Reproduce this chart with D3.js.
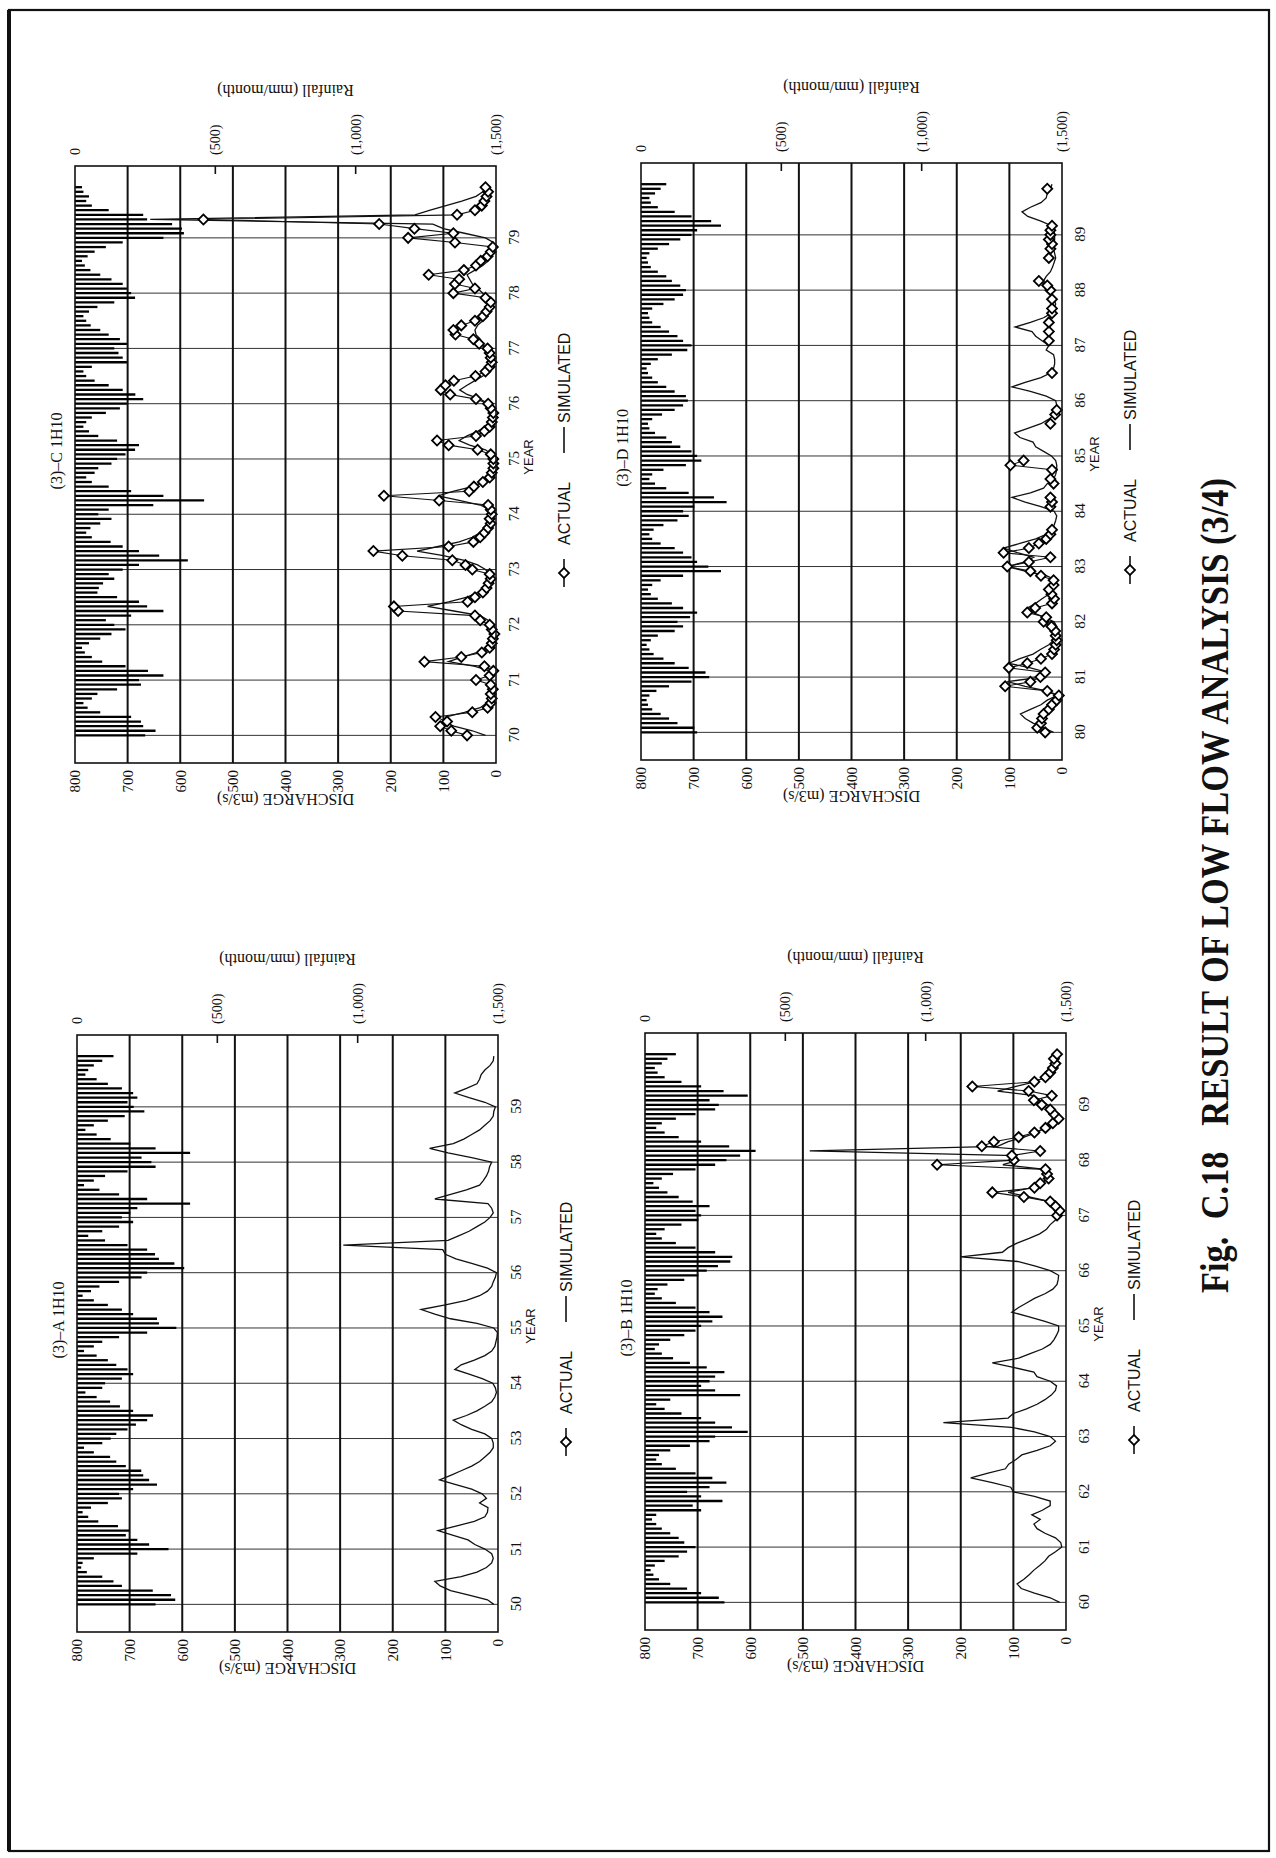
<!DOCTYPE html>
<html>
<head>
<meta charset="utf-8">
<script src="https://cdn.jsdelivr.net/npm/d3@7"></script>
<style>
  html, body { margin: 0; padding: 0; background: #fff; }
  svg { display: block; }
</style>
</head>
<body>
<svg id="page" width="1276" height="1858"></svg>
<script>
// ---------- data ----------
// Discharge axis (m3/s) and rainfall axis (mm/month, hanging from the top)
const dischargeTicks = [0, 100, 200, 300, 400, 500, 600, 700, 800];
const rainTicks = [0, 500, 1000, 1500];
const rainTickLabels = ['0', '(500)', '(1,000)', '(1,500)'];

const titles = ['(3)\u2013A 1H10', '(3)\u2013B 1H10', '(3)\u2013C 1H10', '(3)\u2013D 1H10'];
const yearsA = ['50', '51', '52', '53', '54', '55', '56', '57', '58', '59'];
const yearsB = ['60', '61', '62', '63', '64', '65', '66', '67', '68', '69'];
const yearsC = ['70', '71', '72', '73', '74', '75', '76', '77', '78', '79'];
const yearsD = ['80', '81', '82', '83', '84', '85', '86', '87', '88', '89'];

// Monthly rainfall (mm), Jan of first year .. Dec of tenth year
const rainA = [
  280, 350, 335, 270, 160, 130, 90, 35, 15, 20, 60, 215,
  326, 257, 215, 174, 187, 146, 76, 40, 20, 50, 110, 160,
  150, 200, 285, 257, 236, 229, 174, 140, 118, 60, 25, 90,
  120, 140, 180, 210, 250, 271, 200, 153, 118, 70, 30, 90,
  100, 160, 200, 180, 140, 110, 70, 25, 60, 90, 150, 250,
  354, 292, 285, 200, 160, 110, 60, 20, 50, 80, 150, 230,
  250, 382, 347, 292, 278, 250, 180, 100, 40, 90, 150, 200,
  160, 190, 215, 403, 250, 150, 80, 25, 60, 100, 180, 280,
  265, 230, 403, 280, 190, 120, 70, 30, 60, 110, 170, 240,
  202, 180, 215, 200, 160, 110, 70, 30, 40, 60, 90, 130
];
const rainB = [
  283, 263, 200, 150, 90, 50, 30, 20, 35, 70, 120, 150,
  180, 140, 120, 90, 60, 40, 25, 40, 200, 170, 276, 200,
  150, 230, 290, 240, 180, 110, 60, 40, 50, 90, 160, 230,
  250, 366, 310, 250, 200, 130, 70, 40, 90, 339, 250, 200,
  230, 250, 283, 220, 160, 100, 60, 35, 50, 90, 140, 180,
  200, 240, 276, 230, 180, 110, 60, 35, 45, 80, 140, 190,
  220, 260, 304, 311, 250, 180, 110, 60, 40, 70, 130, 190,
  200, 180, 230, 170, 120, 80, 50, 30, 60, 100, 180, 250,
  290, 339, 394, 300, 200, 120, 70, 40, 60, 110, 180, 250,
  263, 230, 366, 280, 200, 130, 70, 45, 35, 60, 80, 110
];
const rainC = [
  250, 287, 243, 235, 200, 90, 45, 30, 60, 80, 150, 235,
  228, 315, 260, 180, 97, 60, 35, 25, 50, 90, 130, 180,
  140, 110, 200, 315, 257, 228, 150, 80, 85, 100, 140, 120,
  170, 228, 402, 300, 228, 170, 127, 60, 40, 55, 90, 130,
  83, 120, 279, 460, 315, 200, 120, 60, 40, 70, 83, 130,
  150, 180, 214, 228, 150, 83, 50, 30, 40, 60, 110, 160,
  185, 243, 215, 170, 120, 70, 40, 30, 60, 185, 170, 155,
  140, 185, 160, 120, 90, 56, 40, 30, 50, 80, 140, 214,
  200, 185, 170, 130, 90, 55, 35, 25, 45, 70, 110, 170,
  315, 388, 381, 346, 257, 243, 120, 60, 40, 50, 30, 25
];
const rainD = [
  200, 190, 130, 100, 70, 40, 25, 20, 30, 55, 100, 180,
  243, 230, 170, 120, 80, 45, 30, 20, 35, 60, 120, 150,
  130, 175, 200, 150, 110, 60, 35, 25, 40, 70, 150, 285,
  240, 200, 180, 150, 120, 70, 40, 30, 45, 80, 130, 170,
  150, 190, 305, 260, 170, 90, 50, 30, 40, 80, 160, 215,
  200, 180, 140, 110, 90, 50, 30, 25, 40, 75, 120, 150,
  167, 160, 120, 90, 60, 40, 25, 20, 35, 60, 110, 165,
  180, 150, 130, 100, 70, 40, 30, 25, 40, 80, 120, 150,
  160, 140, 110, 90, 60, 35, 25, 20, 30, 60, 100, 140,
  180, 200, 285, 250, 180, 120, 60, 35, 30, 50, 70, 90
];

// Simulated monthly discharge (m3/s)
const simA = [
  8, 20, 55, 90, 110, 120, 70, 40, 22, 12, 9, 12,
  25, 44, 57, 85, 114, 80, 45, 25, 20, 19, 35, 22,
  30, 50, 80, 111, 90, 70, 50, 35, 25, 15, 9, 9,
  12, 25, 50, 70, 85, 60, 40, 25, 12, 6, 3, 5,
  10, 30, 55, 82, 70, 45, 25, 12, 6, 4, 2, 1,
  8, 40, 90, 120, 146, 100, 60, 35, 20, 12, 9, 5,
  3, 20, 50, 80, 100, 105, 294, 95, 75, 55, 40, 25,
  15, 9, 12, 19, 120, 90, 60, 35, 28, 22, 18, 16,
  12, 50, 95, 130, 85, 65, 50, 35, 25, 15, 9, 8,
  5, 25, 55, 82, 60, 40, 35, 32, 25, 15, 9, 8
];
const simB = [
  12, 30, 60, 85, 93, 80, 70, 61, 50, 40, 33, 20,
  8, 10, 20, 40, 55, 61, 49, 65, 45, 30, 30, 60,
  100, 105, 140, 181, 150, 115, 109, 95, 84, 55, 30, 20,
  30, 60, 104, 233, 110, 100, 75, 55, 40, 28, 20, 18,
  30, 55, 61, 100, 140, 90, 68, 45, 30, 23, 18, 14,
  14, 40, 70, 103, 90, 75, 60, 40, 25, 17, 15, 14,
  30, 58, 92, 200, 121, 110, 93, 70, 50, 37, 30, 20,
  15, 13, 18, 30, 70, 110, 65, 45, 35, 32, 40, 120,
  90, 95, 487, 130, 110, 80, 55, 40, 30, 20, 20, 25,
  35, 50, 60, 130, 95, 60, 40, 30, 25, 22, 20, 18
];
const simC = [
  20, 45, 80, 100, 95, 60, 30, 18, 10, 8, 6, 8,
  10, 8, 12, 40, 90, 65, 35, 18, 10, 6, 4, 5,
  8, 15, 30, 80, 130, 90, 55, 35, 22, 15, 10, 12,
  20, 35, 60, 100, 150, 110, 70, 45, 30, 20, 15, 12,
  10, 12, 30, 70, 110, 80, 45, 25, 15, 10, 6, 5,
  5, 8, 20, 50, 70, 55, 35, 20, 12, 8, 6, 10,
  15, 30, 55, 69, 55, 40, 25, 15, 10, 8, 12, 18,
  20, 25, 30, 38, 40, 35, 25, 18, 14, 10, 15, 20,
  25, 35, 45, 50, 55, 40, 25, 15, 10, 6, 4, 5,
  20, 60, 100, 120, 657, 154, 125, 95, 65, 38, 25, 18
];
const simD = [
  16, 35, 55, 70, 79, 60, 40, 28, 10, 30, 70, 104,
  40, 28, 60, 101, 80, 55, 41, 25, 16, 12, 10, 10,
  15, 35, 55, 66, 50, 38, 25, 16, 12, 10, 30, 70,
  104, 70, 54, 85, 111, 80, 50, 30, 22, 15, 12, 10,
  15, 40, 70, 95, 60, 35, 28, 16, 12, 10, 10, 12,
  20, 35, 50, 55, 80, 90, 65, 40, 25, 15, 10, 10,
  12, 30, 60, 95, 70, 40, 22, 16, 14, 14, 16, 30,
  25, 38, 50, 57, 89, 60, 35, 20, 15, 12, 15, 22,
  28, 32, 35, 30, 22, 18, 15, 12, 14, 16, 15, 14,
  14, 15, 20, 40, 65, 76, 60, 40, 30, 28, 22, 19
];

// Observed monthly discharge (m3/s); null = no record
const actB = Array(84).fill(null).concat([
  17, 12, 20, 30, 80, 140, 60, 49, 33, 36, 39, 245,
  99, 103, 49, 160, 137, 90, 60, 39, 25, 14, 23, 30,
  46, 61, 27, 71, 178, 60, 39, 30, 25, 20, 23, 17
]);
const actC = [
  55, 85, 106, 93, 115, 45, 16, 10, 8, 10, 6, 10,
  38, 12, 5, 22, 136, 66, 27, 12, 8, 6, 3, 8,
  12, 30, 40, 186, 194, 54, 40, 25, 18, 14, 10, 12,
  45, 58, 83, 178, 233, 90, 43, 30, 22, 15, 10, 12,
  8, 10, 15, 108, 213, 51, 42, 25, 12, 8, 5, 5,
  5, 10, 35, 90, 112, 38, 22, 12, 8, 6, 5, 10,
  15, 38, 87, 105, 96, 80, 39, 20, 12, 8, 10, 12,
  16, 32, 43, 77, 81, 66, 40, 25, 18, 12, 10, 20,
  81, 40, 78, 70, 128, 61, 38, 29, 16, 10, 6, 78,
  167, 81, 155, 222, 556, 74, 40, 27, 22, 18, 15, 20
];
const actD = [
  32, 47, 40, 38, 35, 25, 19, 10, 6, 28, 108, 60,
  41, 32, 101, 66, 40, 19, 15, 12, 10, 12, 13, 20,
  35, 30, 66, 51, 19, 15, 20, 25, 16, 16, 40, 60,
  104, 63, 22, 111, 63, 44, 30, 22, 19, null, null, null,
  null, 22, 19, 22, null, null, 16, 22, null, 19, 98, 73,
  null, null, null, null, null, null, null, 22, null, 13, 10, null,
  null, null, null, null, null, null, 19, null, null, null, null, null,
  null, 25, null, 25, null, 25, null, 19, 19, null, 19, null,
  22, 28, 44, null, null, null, null, 25, null, 22, 19, 25,
  22, 22, 19, null, null, null, null, null, null, null, 28, null
];

// ---------- layout (landscape sheet, turned a quarter left on the page) ----------
const SHEET_W = 1858;
const PW = 597, PH = 421;                 // plot box size
const frames = [[226, 77], [228, 645], [1095, 75], [1098, 641]];
const SERIF = "'Liberation Serif','Times New Roman',serif";
const SANS = "'Liberation Sans',Arial,sans-serif";

const panels = [
  { title: titles[0], years: yearsA, rain: rainA, sim: simA, act: null },
  { title: titles[1], years: yearsB, rain: rainB, sim: simB, act: actB },
  { title: titles[2], years: yearsC, rain: rainC, sim: simC, act: actC },
  { title: titles[3], years: yearsD, rain: rainD, sim: simD, act: actD }
].map((p, k) => Object.assign(p, { x0: frames[k][0], y0: frames[k][1] }));

const svg = d3.select('#page');
svg.append('rect').attr('width', 1276).attr('height', 1858).attr('fill', '#fff');
const sheet = svg.append('g').attr('transform', `translate(0,${SHEET_W}) rotate(-90)`);

// sheet frame
sheet.append('rect')
  .attr('x', 7).attr('y', 9).attr('width', 1841).attr('height', 1260)
  .attr('fill', 'none').attr('stroke', '#111').attr('stroke-width', 2.2);
sheet.append('line')
  .attr('x1', 7).attr('x2', 1848).attr('y1', 9).attr('y2', 9)
  .attr('stroke', '#111').attr('stroke-width', 4);

const diamond = d3.symbol(d3.symbolSquare, 50);

function drawPanel(p) {
  const g = sheet.append('g');
  const yearTicks = p.years.map(Number);
  const start = yearTicks[0];
  const x = d3.scaleLinear().domain([start - 0.5, start + 10.3]).range([p.x0, p.x0 + PW]);
  const yQ = d3.scaleLinear().domain([0, 800]).range([p.y0 + PH, p.y0]);
  const yR = d3.scaleLinear().domain([0, 1500]).range([p.y0, p.y0 + PH]);
  const tx = i => x(start + i / 12);
  const cx5 = x(start + 5);

  // year grid (thin)
  g.append('g').selectAll('line').data(yearTicks).join('line')
    .attr('x1', d => x(d)).attr('x2', d => x(d))
    .attr('y1', p.y0).attr('y2', p.y0 + PH)
    .attr('stroke', '#333').attr('stroke-width', 1);

  // discharge grid (heavy)
  g.append('g').selectAll('line').data(dischargeTicks.slice(1, -1)).join('line')
    .attr('x1', p.x0).attr('x2', p.x0 + PW)
    .attr('y1', d => yQ(d)).attr('y2', d => yQ(d))
    .attr('stroke', '#111').attr('stroke-width', 2);

  // rainfall bars hanging from the top edge
  g.append('g').selectAll('line').data(p.rain).join('line')
    .attr('x1', (d, i) => tx(i)).attr('x2', (d, i) => tx(i))
    .attr('y1', yR(0)).attr('y2', d => yR(d))
    .attr('stroke', '#000').attr('stroke-width', 2.3);

  // simulated discharge
  const line = d3.line().defined(d => d != null).x((d, i) => tx(i)).y(d => yQ(d));
  g.append('path').datum(p.sim).attr('d', line)
    .attr('fill', 'none').attr('stroke', '#111').attr('stroke-width', 1.3);

  // observed discharge
  if (p.act) {
    g.append('path').datum(p.act).attr('d', line)
      .attr('fill', 'none').attr('stroke', '#111').attr('stroke-width', 1.1);
    g.append('g').selectAll('path')
      .data(p.act.map((v, i) => [i, v]).filter(d => d[1] != null)).join('path')
      .attr('d', diamond)
      .attr('transform', d => `translate(${tx(d[0])},${yQ(d[1])}) rotate(45)`)
      .attr('fill', '#fff').attr('stroke', '#000').attr('stroke-width', 1.8);
  }

  // plot box
  g.append('rect').attr('x', p.x0).attr('y', p.y0).attr('width', PW).attr('height', PH)
    .attr('fill', 'none').attr('stroke', '#111').attr('stroke-width', 1.6);

  // rainfall ticks pointing inward
  g.append('g').selectAll('line').data(rainTicks.slice(1, -1)).join('line')
    .attr('x1', p.x0 + PW).attr('x2', p.x0 + PW - 8)
    .attr('y1', d => yR(d)).attr('y2', d => yR(d))
    .attr('stroke', '#111').attr('stroke-width', 1.6);

  // discharge axis labels
  const axL = g.append('g').attr('transform', `translate(${p.x0},0)`)
    .call(d3.axisLeft(yQ).tickValues(dischargeTicks).tickSize(0).tickPadding(7));
  axL.select('.domain').remove();
  axL.selectAll('text').attr('font-family', SERIF).attr('font-size', 15).attr('fill', '#111');

  // rainfall axis labels
  const axR = g.append('g').attr('transform', `translate(${p.x0 + PW},0)`)
    .call(d3.axisRight(yR).tickValues(rainTicks).tickFormat((d, i) => rainTickLabels[i])
      .tickSize(0).tickPadding(11));
  axR.select('.domain').remove();
  axR.selectAll('text').attr('font-family', SERIF).attr('font-size', 14).attr('fill', '#111');

  // year axis labels
  const axB = g.append('g').attr('transform', `translate(0,${p.y0 + PH})`)
    .call(d3.axisBottom(x).tickValues(yearTicks).tickFormat((d, i) => p.years[i])
      .tickSize(0).tickPadding(12));
  axB.select('.domain').remove();
  axB.selectAll('text').attr('font-family', SERIF).attr('font-size', 15).attr('fill', '#111');

  // axis titles
  g.append('text')
    .attr('transform', `translate(${p.x0 - 36},${p.y0 + PH / 2}) rotate(-90)`)
    .attr('text-anchor', 'middle').attr('dominant-baseline', 'central')
    .attr('font-family', SERIF).attr('font-size', 16).attr('fill', '#111')
    .text('DISCHARGE (m3/s)');
  g.append('text')
    .attr('transform', `translate(${p.x0 + PW + 76},${p.y0 + PH / 2}) rotate(-90)`)
    .attr('text-anchor', 'middle').attr('dominant-baseline', 'central')
    .attr('font-family', SERIF).attr('font-size', 16).attr('fill', '#111')
    .text('Rainfall (mm/month)');
  g.append('text')
    .attr('x', cx5 + 2).attr('y', p.y0 + PH + 37)
    .attr('text-anchor', 'middle')
    .attr('font-family', SANS).attr('font-size', 13).attr('fill', '#111')
    .text('YEAR');

  // panel title
  g.append('text')
    .attr('x', cx5 + 8).attr('y', p.y0 - 13)
    .attr('text-anchor', 'middle')
    .attr('font-family', SERIF).attr('font-size', 16).attr('fill', '#111')
    .text(p.title);

  // legend
  const ly = p.y0 + PH + 68;
  g.append('line').attr('x1', cx5 - 128).attr('x2', cx5 - 100).attr('y1', ly).attr('y2', ly)
    .attr('stroke', '#111').attr('stroke-width', 1.6);
  g.append('path').attr('d', diamond)
    .attr('transform', `translate(${cx5 - 114},${ly}) rotate(45)`)
    .attr('fill', '#fff').attr('stroke', '#000').attr('stroke-width', 1.8);
  g.append('text').attr('x', cx5 - 86).attr('y', ly).attr('dominant-baseline', 'central')
    .attr('font-family', SANS).attr('font-size', 16).attr('fill', '#111').text('ACTUAL');
  g.append('line').attr('x1', cx5 + 6).attr('x2', cx5 + 32).attr('y1', ly).attr('y2', ly)
    .attr('stroke', '#111').attr('stroke-width', 1.6);
  g.append('text').attr('x', cx5 + 36).attr('y', ly).attr('dominant-baseline', 'central')
    .attr('font-family', SANS).attr('font-size', 16).attr('fill', '#111').text('SIMULATED');
}

panels.forEach(drawPanel);

// figure caption
sheet.append('text')
  .attr('x', 565).attr('y', 1228)
  .attr('font-family', SERIF).attr('font-weight', 'bold').attr('font-size', 40)
  .attr('fill', '#111')
  .attr('textLength', 815).attr('lengthAdjust', 'spacingAndGlyphs')
  .style('white-space', 'pre')
  .text('Fig.  C.18   RESULT OF LOW FLOW ANALYSIS (3/4)');
</script>
</body>
</html>
